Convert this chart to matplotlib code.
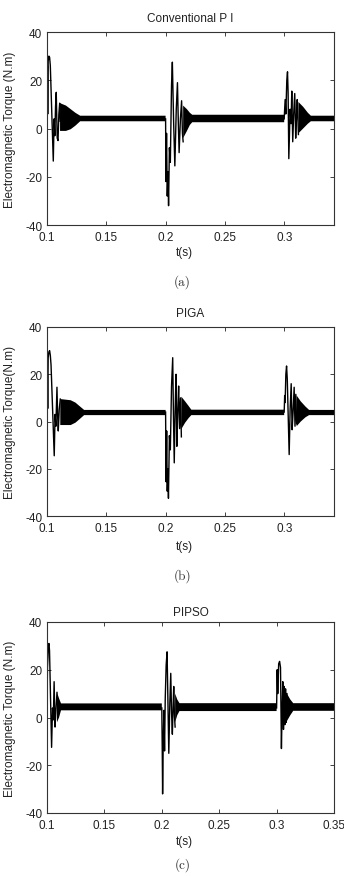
import numpy as np
import matplotlib
matplotlib.use("Agg")
import matplotlib.pyplot as plt

nan = np.nan

# ---- panel (a): Conventional PI ----
a_spk_t = [0.1000, 0.1003, 0.1006, 0.1010, 0.1016, 0.1022, 0.1028, 0.1053, 0.1060, 0.1066,
           0.1072, 0.1078, 0.1086, 0.1093, 0.1100, 0.1107, 0.1112,
           nan,
           0.2000, 0.2003, 0.2008, 0.2014, 0.2020, 0.2025, 0.2032, 0.2040, 0.2050, 0.2057,
           0.2068, 0.2078, 0.2090, 0.2100, 0.2107, 0.2114, 0.2125, 0.2135, 0.2142, 0.2148,
           nan,
           0.3000, 0.3008, 0.3014, 0.3022, 0.3028, 0.3033, 0.3039, 0.3050, 0.3058, 0.3064,
           0.3072, 0.3080, 0.3089, 0.3097, 0.3104, 0.3110, 0.3120]
a_spk_v = [4, 26, 6, 28, 30, 29.5, 26, -13.5, 4, -3,
           9, 15, -4, -5, 6, 10.5, 3,
           nan,
           4, -22, -2, -28, -18, -32, -8, -14, 18, 27.5,
           2, -15.5, 8, 19, 3, -10, 4, 11.5, -2, -5.5,
           nan,
           4, 12, 6, 20, 23.5, 15, -12.5, 8, 2, 15.5,
           -5.5, 6, 14.5, -4, 5, 12, -2.5]
a_env_t = [0.1110, 0.1160, 0.1200, 0.1240, 0.1280, 0.2000, 0.2001,
           0.2148, 0.2180, 0.2205, 0.2225, 0.3000, 0.3001,
           0.3120, 0.3160, 0.3200, 0.3225, 0.3420]
a_env_hi = [10.5, 9.5, 8.0, 6.5, 5.3, 5.3, nan,
            9.5, 8.0, 6.5, 5.7, 5.7, nan,
            11.0, 9.0, 6.5, 5.3, 5.3]
a_env_lo = [-1.0, -1.0, -0.3, 1.2, 3.0, 3.0, nan,
            -4.0, -1.0, 1.5, 2.6, 2.6, nan,
            -2.0, 0.0, 2.0, 3.0, 3.0]

# ---- panel (b): PIGA ----
b_spk_t = [0.1000, 0.1003, 0.1006, 0.1010, 0.1016, 0.1022, 0.1028, 0.1034, 0.1061, 0.1068,
           0.1075, 0.1084, 0.1090, 0.1095, 0.1103, 0.1112,
           nan,
           0.2000, 0.2004, 0.2009, 0.2014, 0.2019, 0.2024, 0.2032, 0.2040, 0.2050, 0.2060,
           0.2066, 0.2073, 0.2080, 0.2088, 0.2095, 0.2103, 0.2110, 0.2118, 0.2126, 0.2133,
           nan,
           0.3000, 0.3004, 0.3008, 0.3014, 0.3020, 0.3026, 0.3034, 0.3042, 0.3050, 0.3059,
           0.3067, 0.3075, 0.3084, 0.3091, 0.3098, 0.3105]
b_spk_v = [4, 19.5, 5.5, 27, 29.5, 30, 28, 24, -14.5, 3,
           -2, 14.5, 2, -4, 5, 9.5,
           nan,
           4, -25.5, -4, -29.5, -20, -32.5, -6, -12, 15, 27,
           3, -17.5, 4, 20, -10.5, 5, 15, -3, 10, -6.5,
           nan,
           4, 11, 8, 20, 23.5, 18, 2, -14, 5, 16,
           -3.5, 4, 14.5, -2, 11.5, -1]
b_env_t = [0.1112, 0.1200, 0.1240, 0.1275, 0.1313, 0.2000, 0.2001,
           0.2133, 0.2165, 0.2195, 0.2217, 0.3000, 0.3001,
           0.3105, 0.3140, 0.3180, 0.3210, 0.3420]
b_env_hi = [9.5, 9.0, 8.0, 6.5, 4.9, 4.9, nan,
            10.5, 8.5, 6.5, 5.0, 5.0, nan,
            11.0, 8.5, 6.3, 4.9, 4.9]
b_env_lo = [-1.5, -1.5, -0.5, 1.0, 2.7, 2.7, nan,
            -3.2, -0.5, 1.5, 2.7, 2.7, nan,
            -2.0, 0.0, 1.8, 2.7, 2.7]

# ---- panel (c): PIPSO ----
c_spk_t = [0.1000, 0.1004, 0.1008, 0.1012, 0.1017, 0.1022, 0.1040, 0.1048, 0.1055, 0.1062,
           0.1070, 0.1078, 0.1087,
           nan,
           0.2000, 0.2004, 0.2007, 0.2012, 0.2018, 0.2024, 0.2030, 0.2038, 0.2046, 0.2054,
           0.2061, 0.2070, 0.2078, 0.2085, 0.2092, 0.2098, 0.2104, 0.2110, 0.2116,
           nan,
           0.3000, 0.3005, 0.3010, 0.3018, 0.3026, 0.3034, 0.3042, 0.3048, 0.3054, 0.3060,
           0.3066, 0.3072, 0.3078, 0.3084, 0.3090]
c_spk_v = [4, 21, 25, 30, 31, 28, -12.5, 4, -1, 15,
           -4, 3, 10.5,
           nan,
           4, -14, -32, -12, 3, -14, 8, 22, 27.5, 5,
           -15, 6, 18.5, 2, -7, 4, 13, 1, -4,
           nan,
           4, 20, 10, 22.5, 23.5, 21, -13, 3, 15, -5,
           13, -3, 12, -2, 10]
c_env_t = [0.1087, 0.1105, 0.1122, 0.2000, 0.2001,
           0.2116, 0.2135, 0.2154, 0.3000, 0.3001,
           0.3090, 0.3120, 0.3145, 0.3500]
c_env_hi = [10.5, 8.0, 5.9, 5.9, nan,
            10.0, 7.5, 6.0, 6.0, nan,
            10.0, 7.5, 6.0, 6.0]
c_env_lo = [-2.0, 0.0, 3.0, 3.0, nan,
            -2.0, 1.0, 2.7, 2.7, nan,
            -1.5, 1.0, 2.8, 2.8]

titles = ["Conventional P I", "PIGA", "PIPSO"]
ylabels = ["Electromagnetic Torque (N.m)", "Electromagnetic Torque(N.m)",
           "Electromagnetic Torque (N.m)"]
captions = ["(a)", "(b)", "(c)"]
xmaxes = [0.342, 0.342, 0.35]
xticks_ab = [0.1, 0.15, 0.2, 0.25, 0.3]
xtick_labels_ab = ["0.1", "0.15", "0.2", "0.25", "0.3"]
xticks_c = [0.1, 0.15, 0.2, 0.25, 0.3, 0.35]
xtick_labels_c = ["0.1", "0.15", "0.2", "0.25", "0.3", "0.35"]
yticks = [-40, -20, 0, 20, 40]

panels = [
    (a_spk_t, a_spk_v, a_env_t, a_env_hi, a_env_lo),
    (b_spk_t, b_spk_v, b_env_t, b_env_hi, b_env_lo),
    (c_spk_t, c_spk_v, c_env_t, c_env_hi, c_env_lo),
]

# pixel layout (top, bottom) of each axes box
boxes = [(33, 226), (328, 517), (623, 814)]
title_y = [19, 314, 613]
xlab_y = [253, 547, 842]
cap_y = [282, 576, 865]

W, H = 344, 878
plt.rcParams['font.family'] = ['Liberation Sans', 'DejaVu Sans']
fig = plt.figure(figsize=(W / 100, H / 100), dpi=100)

left, right = 47, 334
for i, (st, sv, et, ehi, elo) in enumerate(panels):
    top, bot = boxes[i]
    ax = fig.add_axes([left / W, 1 - bot / H, (right - left) / W, (bot - top) / H])
    ax.fill_between(et, elo, ehi, color='black', lw=0)
    ax.plot(st, sv, color='black', lw=1.0)
    ax.set_xlim(0.1, xmaxes[i])
    ax.set_ylim(-40, 40)
    ax.set_yticks(yticks)
    ax.set_yticklabels([str(v) for v in yticks])
    if i < 2:
        ax.set_xticks(xticks_ab)
        ax.set_xticklabels(xtick_labels_ab)
    else:
        ax.set_xticks(xticks_c)
        ax.set_xticklabels(xtick_labels_c)
    ax.tick_params(direction='in', top=True, right=True, length=3, width=0.6,
                   labelsize=8.5, colors='#222222')
    ax.tick_params(axis='x', pad=4.5)
    ax.tick_params(axis='y', pad=3.5)
    for sp in ax.spines.values():
        sp.set_linewidth(0.8)
        sp.set_color('#333333')

    cx = (left + right) / 2 / W
    fig.text(cx, 1 - title_y[i] / H, titles[i], ha='center', va='center', fontsize=8.5,
             color='#222222')
    fig.text(0.535, 1 - xlab_y[i] / H, "t(s)", ha='center', va='center', fontsize=8.5,
             color='#222222')
    fig.text(10 / W, 1 - (top + bot) / 2 / H, ylabels[i], rotation=90, ha='center',
             va='center', fontsize=8.5, color='#222222')
    fig.text(0.53, 1 - cap_y[i] / H, captions[i], ha='center', va='center', fontsize=9.5,
             family=['cmr10', 'DejaVu Serif'], color='#333333')

fig.savefig("out.png", dpi=100)
